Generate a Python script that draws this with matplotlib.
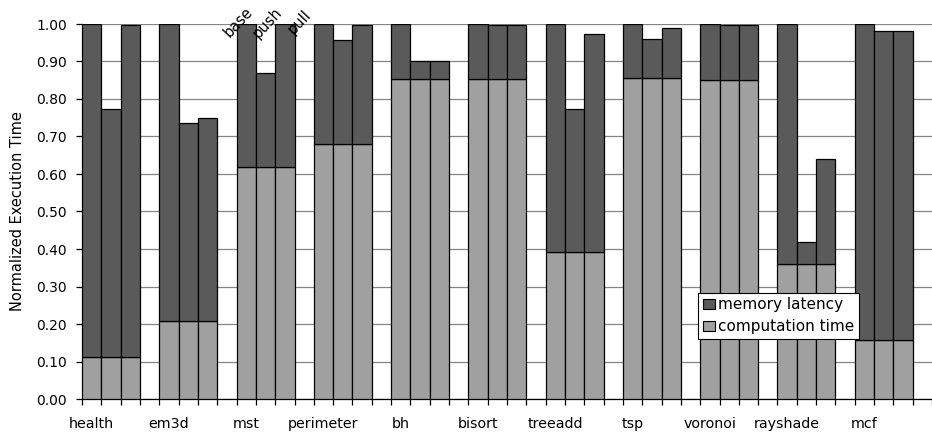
import numpy as np
import matplotlib
matplotlib.use("Agg")
from matplotlib import pyplot as plt
from matplotlib.patches import Patch

plt.rcParams['font.family'] = ['DejaVu Sans']

benchmarks = ['health', 'em3d', 'mst', 'perimeter', 'bh', 'bisort',
              'treeadd', 'tsp', 'voronoi', 'rayshade', 'mcf']
schemes = ['base', 'push', 'pull']

# computation time (same for base / push / pull)
comp_time = [0.112, 0.208, 0.618, 0.681, 0.854, 0.853,
             0.392, 0.857, 0.851, 0.360, 0.157]
# total normalized execution time
total_base = [1.000, 1.000, 1.000, 1.000, 1.000, 1.000,
              1.000, 1.000, 1.000, 1.000, 1.000]
total_push = [0.773, 0.735, 0.870, 0.957, 0.900, 0.998,
              0.772, 0.960, 0.998, 0.420, 0.982]
total_pull = [0.997, 0.750, 0.999, 0.997, 0.900, 0.998,
              0.973, 0.988, 0.998, 0.640, 0.982]

dark = '#5a5a5a'
light = '#a0a0a0'

fig = plt.figure(figsize=(9.32, 4.36), dpi=100)
ax = fig.add_axes([82 / 932, 1 - 399 / 436, 850 / 932, 375 / 436])

n = len(benchmarks)
totals = np.array([total_base, total_push, total_pull])  # 3 x n
comp = np.array(comp_time)
for k in range(3):
    x = np.arange(n) * 4 + k + 0.5
    mem = totals[k] - comp
    ax.bar(x, comp, width=1.0, color=light, edgecolor='black', linewidth=0.9, zorder=3)
    ax.bar(x, mem, bottom=comp, width=1.0, color=dark, edgecolor='black', linewidth=0.9, zorder=3)

# base / push / pull annotations above mst
mst_i = benchmarks.index('mst')
offs = [(-0.85, 0.962), (-0.35, 0.960), (0.45, 0.972)]
for k, (lab, (dx, yy)) in enumerate(zip(schemes, offs)):
    ax.text(mst_i * 4 + k + 0.5 + dx, yy, lab, rotation=47, rotation_mode='anchor',
            ha='left', va='baseline', fontsize=10.5, zorder=5, clip_on=False)

ax.set_xlim(0, 850 / 19.93)
ax.set_ylim(0, 1.0)
ax.set_yticks(np.arange(0, 1.01, 0.1))
ax.set_yticklabels(['%.2f' % v for v in np.arange(0, 1.01, 0.1)], fontsize=10)
ax.yaxis.grid(True, color='#858585', linewidth=0.9, zorder=0)
ax.set_axisbelow(True)

ax.set_xticks(np.arange(0, 4 * n + 1))
ax.set_xticklabels([])
ax.set_xticks(np.arange(n) * 4 + 0.5, minor=True)
ax.set_xticklabels(benchmarks, minor=True, fontsize=10.3)
ax.tick_params(axis='x', which='major', direction='out', length=4, width=0.9)
ax.tick_params(axis='x', which='minor', length=0, pad=13)
ax.tick_params(axis='y', direction='out', length=4, width=0.9, pad=7)

for s in ['top', 'right']:
    ax.spines[s].set_visible(False)
ax.spines['left'].set_linewidth(0.9)
ax.spines['bottom'].set_linewidth(0.9)

ax.set_ylabel('Normalized Execution Time', fontsize=10.5, labelpad=8)

handles = [Patch(facecolor=dark, edgecolor='black', linewidth=0.8, label='memory latency'),
           Patch(facecolor=light, edgecolor='black', linewidth=0.8, label='computation time')]
leg = ax.legend(handles=handles, loc='upper left', bbox_to_anchor=(616 / 850, 0.283),
                borderaxespad=0, fontsize=11, fancybox=False, framealpha=1,
                edgecolor='black', handlelength=0.8, handleheight=0.65,
                handletextpad=0.2, borderpad=0.3, labelspacing=0.45)
leg.get_frame().set_linewidth(0.8)
leg.set_zorder(6)

fig.savefig('out.png', dpi=100)
